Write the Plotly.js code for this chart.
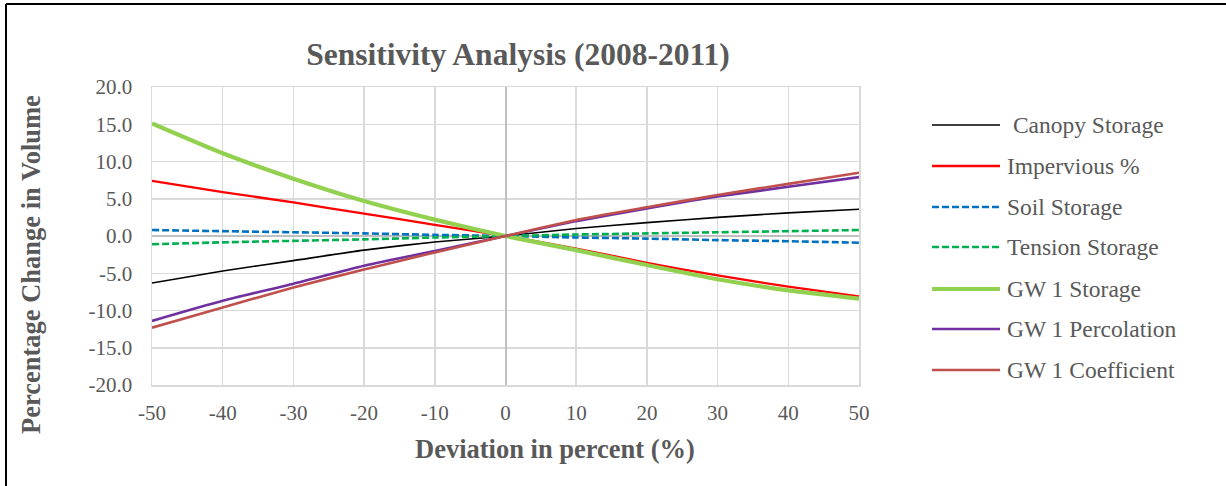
<!DOCTYPE html>
<html>
<head>
<meta charset="utf-8">
<script src="https://cdn.plot.ly/plotly-3.0.1.min.js"></script>
<style>html,body{margin:0;padding:0;background:#fff;}#chart{width:1226px;height:486px;}</style>
</head>
<body>
<div id="chart"></div>
<script>
const deviation = [-50, -40, -30, -20, -10, 0, 10, 20, 30, 40, 50];
const canopyStorage = [-6.3, -4.7, -3.3, -1.9, -0.8, 0, 1.0, 1.8, 2.5, 3.1, 3.6];
const imperviousPct = [7.4, 5.9, 4.5, 3.0, 1.5, 0, -1.7, -3.6, -5.3, -6.8, -8.1];
const soilStorage = [0.8, 0.65, 0.5, 0.35, 0.15, 0, -0.2, -0.35, -0.55, -0.7, -0.9];
const tensionStorage = [-1.1, -0.85, -0.65, -0.45, -0.2, 0, 0.2, 0.35, 0.5, 0.65, 0.8];
const gw1Storage = [15.1, 11.1, 7.7, 4.7, 2.2, 0, -1.9, -3.9, -5.8, -7.3, -8.4];
const gw1Percolation = [-11.4, -8.7, -6.4, -4.0, -2.0, 0, 2.0, 3.7, 5.3, 6.6, 7.9];
const gw1Coefficient = [-12.3, -9.6, -6.9, -4.5, -2.2, 0, 2.15, 3.85, 5.5, 7.0, 8.5];
const seriesNames = [" Canopy Storage", "Impervious %", "Soil Storage", "Tension Storage", "GW 1 Storage", "GW 1 Percolation", "GW 1 Coefficient"];
const yTickVals = [20, 15, 10, 5, 0, -5, -10, -15, -20];
const xTickVals = [-50, -40, -30, -20, -10, 0, 10, 20, 30, 40, 50];

const seriesData = [canopyStorage, imperviousPct, soilStorage, tensionStorage, gw1Storage, gw1Percolation, gw1Coefficient];
const styles = [
  {color: '#000000', width: 1.6, dash: 'solid'},
  {color: '#ff0000', width: 2.3, dash: 'solid'},
  {color: '#0070c0', width: 2.6, dash: 'dash'},
  {color: '#00b050', width: 2.6, dash: 'dash'},
  {color: '#92d050', width: 4.2, dash: 'solid'},
  {color: '#7030a0', width: 2.6, dash: 'solid'},
  {color: '#c0504d', width: 2.6, dash: 'solid'}
];
const DASH = '7px,3px';

const traces = seriesData.map((ys, i) => ({
  x: deviation, y: ys, type: 'scatter', mode: 'lines', name: seriesNames[i],
  line: {color: styles[i].color, width: styles[i].width, dash: styles[i].dash === 'dash' ? DASH : 'solid', shape: 'spline', smoothing: 0.6},
  showlegend: false
}));

const L = 152, R = 859, T = 87, B = 385;
const px2x = p => (p - L) / (R - L);
const py2y = p => (B - p) / (B - T);
const legendY = [125, 166, 207, 247, 289, 329, 370];
const FONT = 'Liberation Serif, Times New Roman, serif';

const shapes = [];
const annotations = [];
seriesNames.forEach((n, i) => {
  shapes.push({type: 'line', xref: 'paper', yref: 'paper', x0: px2x(932), x1: px2x(1000), y0: py2y(legendY[i]), y1: py2y(legendY[i]),
    line: {color: styles[i].color, width: Math.min(styles[i].width, 3.8), dash: styles[i].dash === 'dash' ? DASH : 'solid'}});
  annotations.push({xref: 'paper', yref: 'paper', x: px2x(1005), y: py2y(legendY[i]), xanchor: 'left', yanchor: 'middle',
    text: n, showarrow: false, font: {family: FONT, size: 23.5, color: '#595959'}});
});
annotations.push({xref: 'paper', yref: 'paper', x: px2x(555), y: py2y(449), xanchor: 'center', yanchor: 'middle', showarrow: false,
  text: '<b>Deviation in percent (%)</b>', font: {family: FONT, size: 26.5, color: '#595959'}});
annotations.push({xref: 'paper', yref: 'paper', x: px2x(31), y: py2y(265), xanchor: 'center', yanchor: 'middle', showarrow: false, textangle: -90,
  text: '<b>Percentage Change in Volume</b>', font: {family: FONT, size: 26.5, color: '#595959'}});
// outer border (left and top edges visible)
shapes.push({type: 'line', xref: 'paper', yref: 'paper', x0: px2x(6), x1: px2x(6), y0: py2y(4), y1: py2y(500), line: {color: '#000', width: 2}});
shapes.push({type: 'line', xref: 'paper', yref: 'paper', x0: px2x(6), x1: px2x(1240), y0: py2y(4), y1: py2y(4), line: {color: '#000', width: 2}});

const layout = {
  width: 1226, height: 486,
  margin: {l: L, r: 1226 - R, t: T, b: 486 - B},
  paper_bgcolor: '#fff', plot_bgcolor: '#fff',
  font: {family: FONT, color: '#595959', size: 21},
  title: {text: '<b>Sensitivity Analysis (2008-2011)</b>', x: 518 / 1226, xanchor: 'center', y: 1 - 54 / 486, yanchor: 'middle',
    font: {family: FONT, size: 31.5, color: '#595959'}},
  xaxis: {range: [-50, 50], tickvals: xTickVals, ticktext: xTickVals.map(String), showgrid: true, gridcolor: '#d9d9d9', gridwidth: 1.5,
    zeroline: true, zerolinecolor: '#bfbfbf', zerolinewidth: 2, showline: true, linecolor: '#d9d9d9', linewidth: 1.5, mirror: true, ticks: '',
    tickfont: {size: 21, color: '#595959'}, ticklabelstandoff: 8},
  yaxis: {range: [-20, 20], tickvals: yTickVals, ticktext: yTickVals.map(v => v.toFixed(1)), showgrid: true, gridcolor: '#d9d9d9', gridwidth: 1.5,
    zeroline: true, zerolinecolor: '#bfbfbf', zerolinewidth: 2, showline: true, linecolor: '#d9d9d9', linewidth: 1.5, mirror: true, ticks: '',
    tickfont: {size: 21, color: '#595959'}, ticklabelstandoff: 14},
  shapes: shapes, annotations: annotations, showlegend: false
};

Plotly.newPlot('chart', traces, layout, {displayModeBar: false, staticPlot: true});
</script>
</body>
</html>
